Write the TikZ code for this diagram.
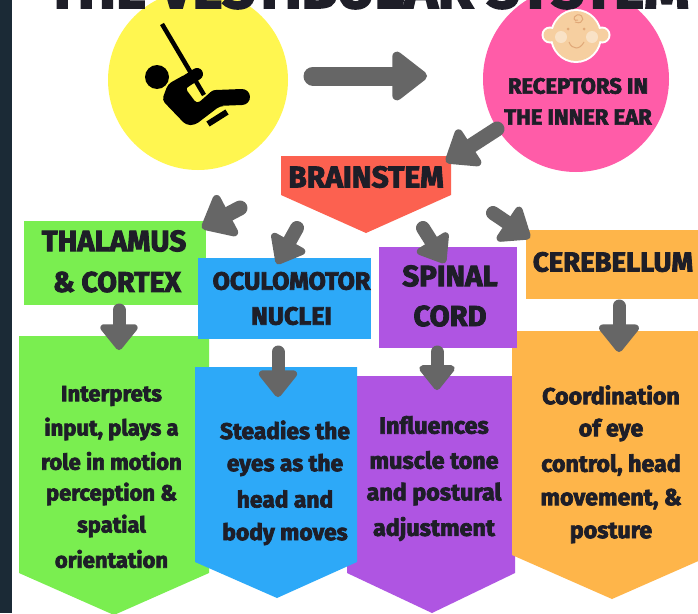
\documentclass[tikz,border=0pt]{standalone}
\usepackage{fontspec}
\setmainfont{Fira Sans}[BoldFont=* Bold,BoldFeatures={FakeBold=3}]
\usetikzlibrary{arrows.meta}
\definecolor{ink}{HTML}{1E1E28}
\definecolor{arrowgray}{HTML}{666666}
\definecolor{cyel}{HTML}{FFF650}
\definecolor{cpink}{HTML}{FF5CA8}
\definecolor{cred}{HTML}{FC6150}
\definecolor{cgreen}{HTML}{7AEE50}
\definecolor{cblue}{HTML}{2DA9F8}
\definecolor{cpurple}{HTML}{AF55E2}
\definecolor{corange}{HTML}{FEB54A}
\definecolor{skin}{HTML}{F6CFA0}
\definecolor{skinline}{HTML}{E0A878}
\definecolor{strip}{HTML}{1B2A36}
\tikzset{
 lbl/.style={text=ink,font=\bfseries\fontsize{#1}{#1}\selectfont,inner sep=0pt,align=center},
 lbl/.default=24,
 blockarrow/.style n args={3}{draw=arrowgray,line width=#1,line cap=round,line join=round,
   -{Triangle[length=#3,width=#2,round,line join=round,fill=arrowgray,color=arrowgray]}},
}
\begin{document}
\begin{tikzpicture}[x=1pt,y=-1pt]
\useasboundingbox (0,0) rectangle (698,613);
\begin{scope}
\clip (0,0) rectangle (698,613);
\fill[white] (0,0) rectangle (698,613);
\fill[cyel] (198,80) circle[radius=90];
\fill[cpink] (576,79) circle[radius=93];
% title
\node[lbl=57.4,anchor=base] (title) at (368,8) {THE VESTIBULAR SYSTEM};
% swing
\draw[line width=4.5pt] (162,24) -- (204,95);
\fill (157,77) circle[radius=12];
\draw[line width=12pt,line cap=round] (177,87) -- (197,74);
\draw[line width=16pt,line cap=round] (216,98) -- (242,97);
\fill[rounded corners=4pt] (168,84) -- (186,74) -- (192,84) -- (185,88) -- (197,104) -- (213,90) -- (225,90) -- (225,106) -- (220,106) -- (195,125) -- (186,125) -- (162,100) -- cycle;
\draw[line width=6pt] (208,124) -- (227,112);
% baby
\fill[white] (550,35) circle[radius=8.5] (602,35) circle[radius=8.5] (576,36) ellipse[x radius=26,y radius=27];
\fill[skin] (550,35) circle[radius=6.5] (602,35) circle[radius=6.5] (576,36) ellipse[x radius=24,y radius=25];
\fill[white,opacity=.4] (561,37) circle[radius=6] (592,37) circle[radius=6];
\fill[skinline] (568,29) circle[radius=1.5] (584,29) circle[radius=1.5];
\draw[skinline,line width=1pt] (569,42) .. controls (572,50) and (580,50) .. (584,42);
\draw[skinline,line width=1pt] (575,22) .. controls (585,26) and (585,13) .. (577,15) .. controls (572,17) and (574,22) .. (578,20);
\node[lbl=22] (ear1) at (578,86) {RECEPTORS IN};
\node[lbl=22] (ear2) at (578,117) {THE INNER EAR};
% pentagons
\fill[cred] (281,156) -- (451,156) -- (451,195) -- (366,233) -- (281,195) -- cycle;
\node[lbl=30] (brain) at (366,177) {BRAINSTEM};
\fill[cgreen] (19,336) -- (209,336) -- (209,573) -- (114,615) -- (19,573) -- cycle;
\fill[cpurple] (347,376) -- (515,376) -- (515,573) -- (432,613) -- (347,573) -- cycle;
\fill[cblue] (195,367) -- (357,367) -- (357,562) -- (277,598) -- (195,562) -- cycle;
\fill[corange] (512,331) -- (712,331) -- (712,555) -- (612,599) -- (512,555) -- cycle;
% boxes
\fill[cgreen] (24,221) rectangle (206,305);
\fill[cblue] (198,258) rectangle (371,339);
\fill[cpurple] (379,247) rectangle (517,348);
\fill[corange] (526,230) rectangle (698,299);
\node[lbl=29.5] (th1) at (114,241) {THALAMUS};
\node[lbl=28.5] (th2) at (117,282) {\& CORTEX};
\node[lbl=25] (oc1) at (291.5,281) {OCULOMOTOR};
\node[lbl=25] (oc2) at (291.5,316) {NUCLEI};
\node[lbl=29.5] (sp1) at (450,276) {SPINAL};
\node[lbl=29] (sp2) at (450,316) {CORD};
\node[lbl=27.5] (ce1) at (613,262) {CEREBELLUM};
% body text
\node[lbl=22] (g1) at (111.5,396) {Interprets};
\node[lbl=22] (g2) at (111.5,429) {input, plays a};
\node[lbl=22] (g3) at (111.5,461) {role in motion};
\node[lbl=22] (g4) at (111.5,494) {perception \&};
\node[lbl=22] (g5) at (111.5,526) {spatial};
\node[lbl=22] (g6) at (111.5,559) {orientation};
\node[lbl=22.8] (b1) at (285,430) {Steadies the};
\node[lbl=22.8] (b2) at (285,465) {eyes as the};
\node[lbl=22.8] (b3) at (285,499) {head and};
\node[lbl=22.8] (b4) at (285,534) {body moves};
\node[lbl=23.3] (p1) at (434,425) {Influences};
\node[lbl=23.3] (p2) at (434,460) {muscle tone};
\node[lbl=23.3] (p3) at (434,494) {and postural};
\node[lbl=23.3] (p4) at (434,529) {adjustment};
\node[lbl=23.2] (o1) at (611,395) {Coordination};
\node[lbl=23.2] (o2) at (611,430) {of eye};
\node[lbl=23.2] (o3) at (611,465) {control, head};
\node[lbl=23.2] (o4) at (611,499) {movement, \&};
\node[lbl=23.2] (o5) at (611,533) {posture};
% arrows
\coordinate (a1s) at (313,76); \coordinate (a1e) at (427,76);
\draw[blockarrow={19pt}{56pt}{38pt}] (a1s) -- (a1e);
\coordinate (a2s) at (497,129); \coordinate (a2e) at (446,162);
\draw[blockarrow={15pt}{49pt}{33pt}] (a2s) -- (a2e);
\coordinate (a3s) at (240,208); \coordinate (a3e) at (202,228);
\draw[blockarrow={15pt}{53pt}{33pt}] (a3s) -- (a3e);
\coordinate (a4s) at (297,228); \coordinate (a4e) at (277,264);
\draw[blockarrow={14pt}{44pt}{29pt}] (a4s) -- (a4e);
\coordinate (a5s) at (423,228); \coordinate (a5e) at (445,263);
\draw[blockarrow={14pt}{42pt}{29pt}] (a5s) -- (a5e);
\coordinate (a6s) at (493,213); \coordinate (a6e) at (530,238);
\draw[blockarrow={14pt}{47pt}{31pt}] (a6s) -- (a6e);
\coordinate (a7s) at (119,310); \coordinate (a7e) at (119,350);
\draw[blockarrow={13pt}{43pt}{28pt}] (a7s) -- (a7e);
\coordinate (a8s) at (278,352); \coordinate (a8e) at (278,397);
\draw[blockarrow={13pt}{44pt}{29pt}] (a8s) -- (a8e);
\coordinate (a9s) at (437,352); \coordinate (a9e) at (437,390);
\draw[blockarrow={13pt}{41pt}{27pt}] (a9s) -- (a9e);
\coordinate (a10s) at (619,306); \coordinate (a10e) at (619,352);
\draw[blockarrow={13pt}{46pt}{30pt}] (a10s) -- (a10e);
\fill[strip] (0,0) rectangle (12,613);
\end{scope}
\end{tikzpicture}
\end{document}
